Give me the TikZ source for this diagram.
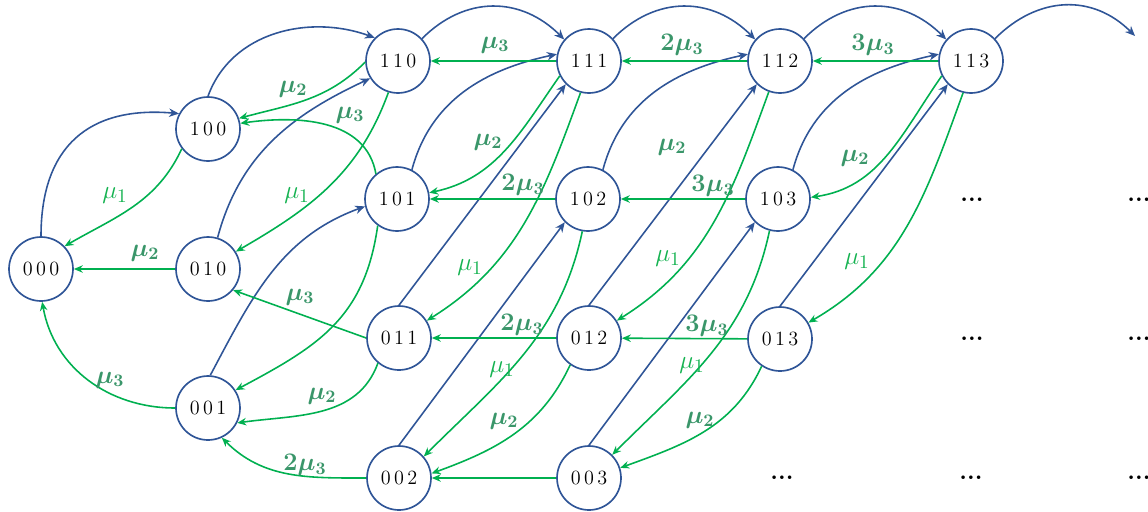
\documentclass[tikz,border=0pt]{standalone}
\usetikzlibrary{arrows.meta}
\definecolor{nodeblue}{RGB}{47,85,151}
\definecolor{flowgreen}{RGB}{0,176,80}
\definecolor{ratedark}{RGB}{58,150,106}
\definecolor{ratelight}{RGB}{20,178,80}
\begin{document}
\begin{tikzpicture}[x=0.02cm,y=0.02cm,
  state/.style={circle,draw=nodeblue,line width=0.95pt,minimum size=1.28cm,
                inner sep=0pt,font=\fontsize{11.5}{13}\selectfont},
  arrive/.style={draw=nodeblue,line width=0.9pt,-{Stealth[length=2mm,width=1.7mm]}},
  depart/.style={draw=flowgreen,line width=0.9pt,-{Stealth[length=1.8mm,width=1.5mm]}},
  rate/.style={text=ratedark,font=\fontsize{14.5}{16}\selectfont\boldmath,inner sep=0pt},
  rateone/.style={text=ratelight,font=\fontsize{15.5}{17}\selectfont,inner sep=0pt},
  moredots/.style={font=\fontsize{14}{16}\selectfont\bfseries,inner sep=0pt}]
\useasboundingbox (0,0) rectangle (1148,-511);

% states
\node[state] (n000) at (41,-269)  {0\,0\,0};
\node[state] (n100) at (208,-129) {1\,0\,0};
\node[state] (n010) at (208,-269) {0\,1\,0};
\node[state] (n001) at (208,-408) {0\,0\,1};
\node[state] (n110) at (398,-61)  {1\,1\,0};
\node[state] (n101) at (397,-199) {1\,0\,1};
\node[state] (n011) at (399,-338) {0\,1\,1};
\node[state] (n002) at (399,-478) {0\,0\,2};
\node[state] (n111) at (589,-61)  {1\,1\,1};
\node[state] (n102) at (588,-199) {1\,0\,2};
\node[state] (n012) at (589,-338) {0\,1\,2};
\node[state] (n003) at (589,-478) {0\,0\,3};
\node[state] (n112) at (780,-61)  {1\,1\,2};
\node[state] (n103) at (778,-199) {1\,0\,3};
\node[state] (n013) at (780,-339) {0\,1\,3};
\node[state] (n113) at (971,-61)  {1\,1\,3};
\coordinate (beyond) at (1135,-36);

% continuation marks
\node[moredots] (d1) at (972,-200)  {...};
\node[moredots] (d2) at (1139,-200) {...};
\node[moredots] (d3) at (972,-339)  {...};
\node[moredots] (d4) at (1139,-339) {...};
\node[moredots] (d5) at (782,-478)  {...};
\node[moredots] (d6) at (971,-478)  {...};
\node[moredots] (d7) at (1139,-478) {...};

% arrivals
\draw[arrive] (n000.90) to[out=90,in=175,looseness=1.25] (n100.152);
\draw[arrive] (n100.90) to[out=70,in=160] (n110.135);
\draw[arrive] (n010.73) to[out=75,in=205] (n110.212);
\draw[arrive] (n001.86) to[out=62,in=200] (n101.193);
\draw[arrive] (n110.43) to[out=45,in=135,looseness=1.1] (n111.139);
\draw[arrive] (n101.63) to[out=75,in=192] (n111.168);
\draw[arrive] (n011.90) -- (n111.225);
\draw[arrive] (n002.90) -- (n102.225);
\draw[arrive] (n111.43) to[out=45,in=135,looseness=1.1] (n112.139);
\draw[arrive] (n102.63) to[out=75,in=192] (n112.168);
\draw[arrive] (n012.90) -- (n112.225);
\draw[arrive] (n003.90) -- (n103.225);
\draw[arrive] (n112.43) to[out=45,in=135,looseness=1.1] (n113.139);
\draw[arrive] (n103.63) to[out=75,in=192] (n113.168);
\draw[arrive] (n013.90) -- (n113.225);
\draw[arrive] (n113.43) to[out=45,in=135,looseness=1.1] (beyond);

% departures
\draw[depart] (n100.217) to[out=245,in=30] (n000.44);
\draw[depart] (n010) -- (n000);
\draw[depart] (n001.180) to[out=180,in=-80] (n000.-88);
\draw[depart] (n110.182) to[out=225,in=15] (n100.19);
\draw[depart] (n101.130) to[out=100,in=8] (n100.10);
\draw[depart] (n110.253) to[out=250,in=30] (n010.32);
\draw[depart] (n011.180) -- (n010.-40);
\draw[depart] (n101.234) to[out=262,in=28,looseness=1.1] (n001.33);
\draw[depart] (n011.230) to[out=250,in=8] (n001.-27);
\draw[depart] (n002.180) to[out=180,in=-45] (n001.-65);
\draw[depart] (n111) -- (n110);
\draw[depart] (n111.207) to[out=235,in=12] (n101.11);
\draw[depart] (n102) -- (n101);
\draw[depart] (n111.255) to[out=250,in=32] (n011.32);
\draw[depart] (n112) -- (n111);
\draw[depart] (n112.250) to[out=250,in=32] (n012.32);
\draw[depart] (n103) -- (n102);
\draw[depart] (n102.260) to[out=258,in=45] (n002.41);
\draw[depart] (n012.235) to[out=245,in=20] (n002.8);
\draw[depart] (n012) -- (n011);
\draw[depart] (n003) -- (n002);
\draw[depart] (n013) -- (n012);
\draw[depart] (n103.255) to[out=258,in=45] (n003.45);
\draw[depart] (n013.236) to[out=245,in=20] (n003.18);
\draw[depart] (n113) -- (n112);
\draw[depart] (n113.207) to[out=235,in=8] (n103.3);
\draw[depart] (n113.256) to[out=250,in=30] (n013.30);

% rates
\node[rateone] (r1)  at (115,-196) {$\mu_1$};
\node[rate]    (r2)  at (145,-253) {$\mu_2$};
\node[rate]    (r3)  at (110,-380) {$\mu_3$};
\node[rate]    (r4)  at (293,-89)  {$\mu_2$};
\node[rate]    (r5)  at (350,-115) {$\mu_3$};
\node[rateone] (r6)  at (297,-196) {$\mu_1$};
\node[rate]    (r7)  at (300,-297) {$\mu_3$};
\node[rate]    (r8)  at (322,-396) {$\mu_2$};
\node[rate]    (r9)  at (305,-465) {$2\mu_3$};
\node[rate]    (r10) at (495,-45)  {$\mu_3$};
\node[rate]    (r11) at (488,-142) {$\mu_2$};
\node[rate]    (r12) at (523,-185) {$2\mu_3$};
\node[rateone] (r13) at (470,-268) {$\mu_1$};
\node[rate]    (r14) at (682,-45)  {$2\mu_3$};
\node[rate]    (r15) at (672,-147) {$\mu_2$};
\node[rate]    (r16) at (713,-186) {$3\mu_3$};
\node[rateone] (r17) at (668,-259) {$\mu_1$};
\node[rateone] (r18) at (502,-370) {$\mu_1$};
\node[rate]    (r19) at (504,-421) {$\mu_2$};
\node[rate]    (r20) at (522,-325) {$2\mu_3$};
\node[rateone] (r21) at (692,-366) {$\mu_1$};
\node[rate]    (r22) at (700,-420) {$\mu_2$};
\node[rate]    (r23) at (707,-326) {$3\mu_3$};
\node[rate]    (r24) at (873,-45)  {$3\mu_3$};
\node[rate]    (r25) at (855,-158) {$\mu_2$};
\node[rateone] (r26) at (857,-262) {$\mu_1$};
\end{tikzpicture}
\end{document}
